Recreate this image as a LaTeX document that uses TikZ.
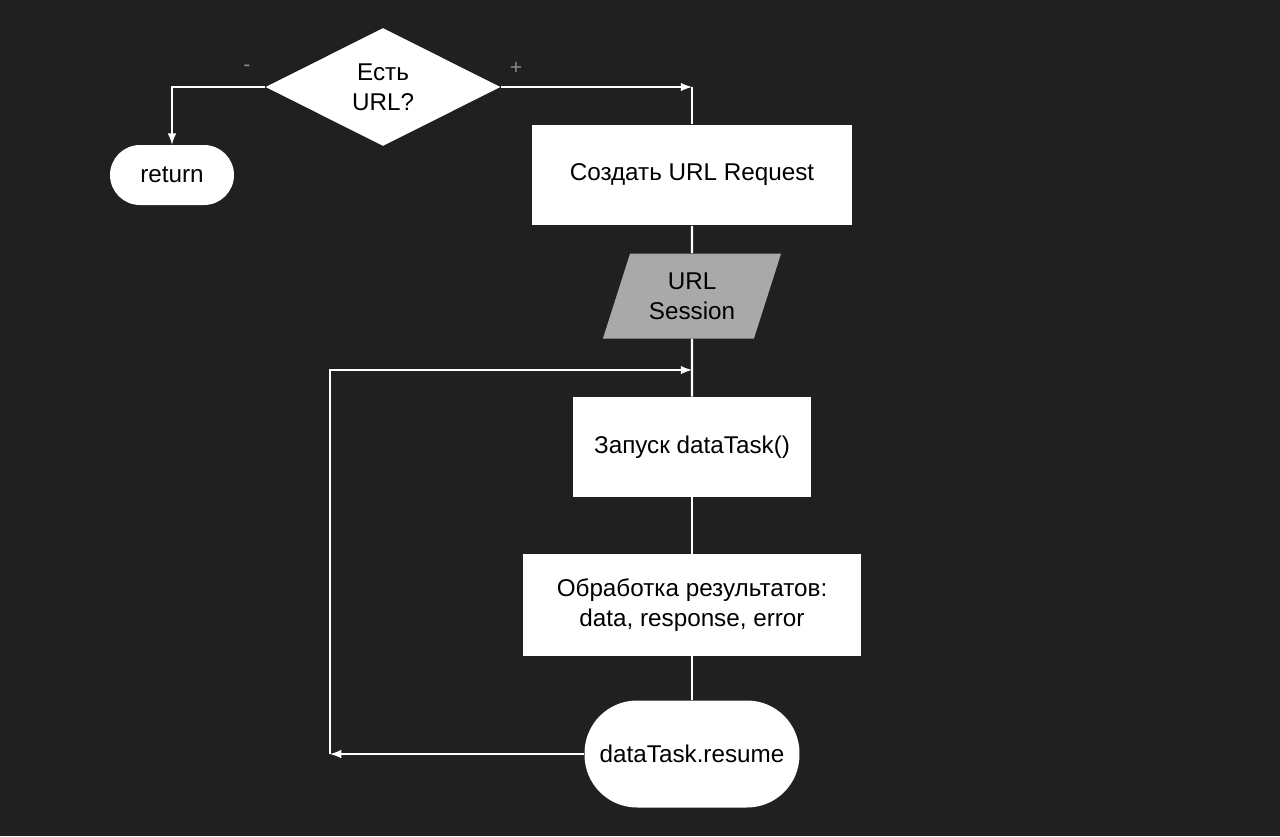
\documentclass[tikz,border=0pt]{standalone}
\usepackage{fontspec}
\setmainfont{Liberation Sans}
\usetikzlibrary{arrows,shapes.geometric}
\definecolor{bg}{HTML}{202020}
\definecolor{sessgray}{HTML}{A9A9A9}
\definecolor{signgray}{HTML}{8A8A8A}
\begin{document}
\begin{tikzpicture}[x=0.02cm,y=-0.02cm,
    font=\fontsize{13.8}{17}\selectfont,
    box/.style={fill=white,text=black,align=center,inner sep=0pt},
    link/.style={draw=white,line width=1.2pt}]
\fill[bg] (0,0) rectangle (1280,836);
\useasboundingbox (0,0) rectangle (1280,836);
% nodes
\node[box,diamond,minimum width=4.7cm,minimum height=2.36cm](ask)at(383,87){Есть\\URL?};
\node[box,rounded corners=0.6cm,minimum width=2.48cm,minimum height=1.2cm](ret)at(172,175){return};
\node[box,minimum width=6.42cm,minimum height=2.02cm](req)at(692,175){Создать URL Request};
\node[box,fill=sessgray,trapezium,trapezium stretches=true,trapezium left angle=68,trapezium right angle=112,
      minimum width=3.58cm,minimum height=1.7cm](sess)at(692,296){URL\\Session};
\node[box,minimum width=4.78cm,minimum height=2cm](task)at(692,447){Запуск dataTask()};
\node[box,minimum width=6.78cm,minimum height=2.04cm](proc)at(692,605){Обработка результатов:\\data, response, error};
\node[box,rounded corners=1.05cm,minimum width=4.3cm,minimum height=2.14cm](res)at(692,754){dataTask.resume};
\node[text=signgray,font=\fontsize{12}{12}\selectfont](minus)at(247,68){-};
\node[text=signgray,font=\fontsize{12}{12}\selectfont](plus)at(516,68){+};
\coordinate (yes) at (692,87);
\coordinate (loopin) at (692,370);
\coordinate (loopout) at (330,754);
% connectors
\draw[link,-latex] (ask.west) -| (ret.north);
\draw[link,-latex] (ask.east) -- (yes);
\draw[link] (yes) -- (req.north);
\draw[link] (req.south) -- (sess.north);
\draw[link] (sess.south) -- (task.north);
\draw[link] (task.south) -- (proc.north);
\draw[link] (proc.south) -- (res.north);
\draw[link,-latex] (res.west) -- (loopout);
\draw[link,-latex] (loopout) |- (loopin);
\end{tikzpicture}
\end{document}
